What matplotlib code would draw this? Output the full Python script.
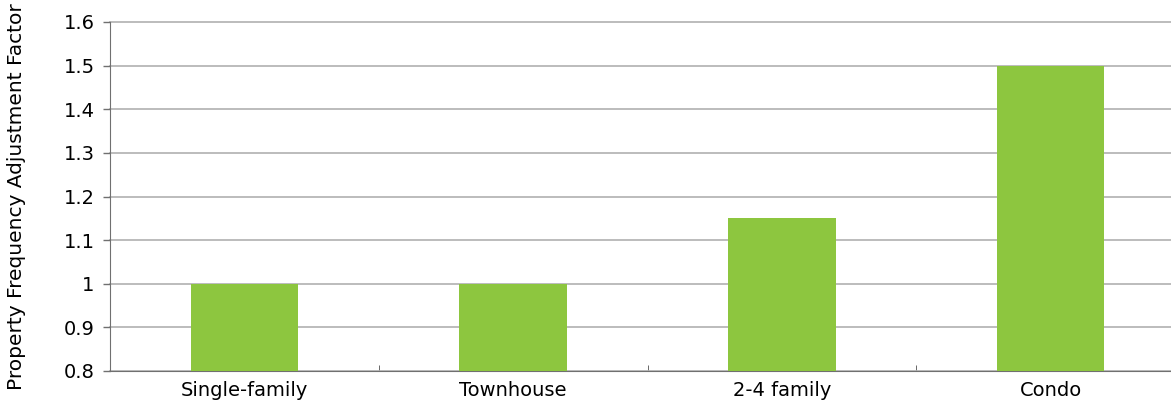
import matplotlib.pyplot as plt
import numpy as np

categories = ['Single-family', 'Townhouse', '2-4 family', 'Condo']
factors = [1.0, 1.0, 1.15, 1.5]
y_ticks = [0.8, 0.9, 1.0, 1.1, 1.2, 1.3, 1.4, 1.5, 1.6]
y_labels = ['0.8', '0.9', '1', '1.1', '1.2', '1.3', '1.4', '1.5', '1.6']

plt.rcParams['font.family'] = ['DejaVu Sans']

fig = plt.figure(figsize=(11.71, 4.03), dpi=100)
ax = fig.add_axes([110 / 1171, 32 / 403, 1075 / 1171, 349 / 403])

x = np.arange(len(categories))
ax.bar(x, factors, width=0.4, color='#8DC63F', zorder=3)

ax.set_xlim(-0.5, len(categories) - 0.5)
ax.set_ylim(0.8, 1.6)
ax.set_yticks(y_ticks)
ax.set_yticklabels(y_labels, fontsize=14)
ax.set_xticks(x)
ax.set_xticklabels(categories, fontsize=14)
ax.tick_params(axis='x', length=0, pad=7)
ax.tick_params(axis='y', length=5, width=1, color='#707070', pad=6)
ax.set_xticks(np.arange(0.5, len(categories) - 0.5, 1), minor=True)
ax.tick_params(axis='x', which='minor', direction='in', length=4, color='#505050')

ax.yaxis.grid(True, color='#B0B0B0', linewidth=1.2, zorder=0)
for gl in ax.get_ygridlines():
    gl.set_clip_on(False)
ax.set_axisbelow(True)
for side in ['top', 'right']:
    ax.spines[side].set_visible(False)
ax.spines['left'].set_color('#707070')
ax.spines['bottom'].set_color('#707070')

ax.set_ylabel('Property Frequency Adjustment Factor', fontsize=14.5, labelpad=27)

fig.savefig('out.png', dpi=100)
